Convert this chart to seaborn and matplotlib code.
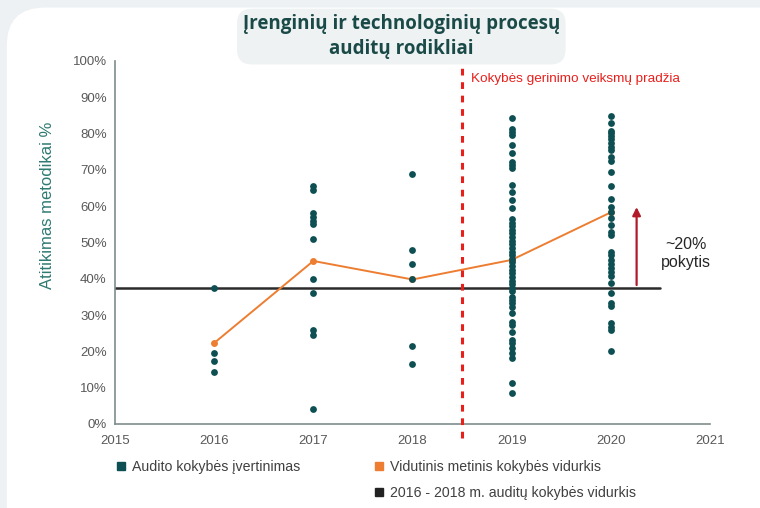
import matplotlib
matplotlib.use("Agg")
import matplotlib.pyplot as plt
import seaborn as sns
import pandas as pd
from matplotlib.lines import Line2D
from matplotlib.patches import FancyBboxPatch
from matplotlib.ticker import PercentFormatter

# audit scores per year (% compliance)
scores_2016 = [37.5, 19.6, 17.4, 14.3]
scores_2017 = [65.5, 64.5, 58.0, 57.0, 56.0, 55.0, 51.0, 40.0, 36.0, 26.0, 24.5, 4.0]
scores_2018 = [68.8, 47.9, 44.0, 39.9, 21.6, 16.4]
scores_2019 = [84.2, 81.2, 80.5, 79.6, 76.9, 74.6, 72.3, 71.3, 70.4, 65.8, 64.0, 61.7, 59.4,
               56.5, 55.5, 54.5, 53.5, 52.5, 51.5, 50.5, 49.5, 48.5, 47.5, 46.5, 45.5,
               44.5, 43.5, 42.5, 41.5, 40.5, 39.5, 38.5, 37.5, 36.5,
               35.1, 34.2, 33.2, 32.3, 30.5, 28.2, 27.3, 25.4, 23.1, 22.2, 20.9, 19.5, 18.1, 11.2, 8.5]
scores_2020 = [84.8, 83.0, 80.8, 80.1, 79.3, 78.4, 77.5, 76.4, 75.5, 73.6, 72.5, 69.5, 65.6,
               61.9, 59.7, 58.5, 56.7, 54.8, 52.8, 52.1, 47.5, 46.6, 45.2, 44.1, 42.9, 42.0,
               40.8, 38.9, 36.2, 33.4, 32.5, 27.9, 26.8, 25.9, 20.2]

years = [2016, 2017, 2018, 2019, 2020]
yearly_mean = [22.3, 44.9, 39.8, 45.2, 58.3]
baseline = 37.5
baseline_span = [2015, 2020.5]
improvement_start = 2018.5
xticks = [2015, 2016, 2017, 2018, 2019, 2020, 2021]
yticks = [0, 10, 20, 30, 40, 50, 60, 70, 80, 90, 100]

all_scores = [scores_2016, scores_2017, scores_2018, scores_2019, scores_2020]
points = pd.DataFrame({
    "year": [y for y, s in zip(years, all_scores) for _ in s],
    "score": [v for s in all_scores for v in s],
})
means = pd.DataFrame({"year": years, "score": yearly_mean})

TEAL = "#0d4f52"
ORANGE = "#ed7d31"
RED = "#e8201c"
GREY = "#595959"

sns.set_theme(style="white")
plt.rcParams["font.family"] = ["Liberation Sans", "DejaVu Sans"]

fig = plt.figure(figsize=(7.6, 5.08), dpi=100, facecolor="#eef1f3")

# white rounded card behind the chart
card = FancyBboxPatch((0.009, -0.2), 1.2, 1.185, boxstyle="round,pad=0,rounding_size=0.05",
                      transform=fig.transFigure, facecolor="white", edgecolor="none",
                      mutation_aspect=1.5, zorder=-5)
fig.patches.append(card)

ax = fig.add_axes([0.1513, 0.1654, 0.7829, 0.7146])
ax.set_facecolor("none")
ax.set_zorder(2)

ax.plot(baseline_span, [baseline, baseline], color="#2b2b2b", lw=1.8, zorder=2)
sns.lineplot(data=means, x="year", y="score", ax=ax, color=ORANGE, lw=1.4,
             marker="o", markersize=5, markeredgewidth=0, zorder=3)
sns.scatterplot(data=points, x="year", y="score", ax=ax, color=TEAL, s=24,
                linewidth=0, zorder=4)

ax.axvline(improvement_start, ymin=-0.04, ymax=1.0, color=RED, ls=(0, (2.2, 2.2)),
           lw=2.2, clip_on=False, zorder=5)
ax.text(improvement_start + 0.09, 95, "Kokybės gerinimo veiksmų pradžia", color=RED,
        fontsize=9.7, va="center", ha="left")

ax.annotate("", xy=(2020.26, 60.5), xytext=(2020.26, baseline),
            arrowprops=dict(arrowstyle="-|>", color="#b21a2a", lw=1.6, mutation_scale=12))
ax.text(2020.76, 47, "~20%\npokytis", ha="center", va="center", fontsize=11.5,
        color="#262626", linespacing=1.25)

ax.set_xlim(2015, 2021)
ax.set_ylim(0, 100)
ax.set_xticks(xticks)
ax.set_yticks(yticks)
ax.yaxis.set_major_formatter(PercentFormatter(decimals=0))
ax.tick_params(axis="both", labelsize=9.5, colors=GREY, length=0, pad=6)
ax.tick_params(axis="x", pad=8)
ax.set_xlabel("")
ax.set_ylabel("Atitikimas metodikai %", color="#2e7a72", fontsize=12)
ax.yaxis.set_label_coords(-0.101, 0.603)
for side in ["top", "right"]:
    ax.spines[side].set_visible(False)
for side in ["left", "bottom"]:
    ax.spines[side].set_color("#7f8c8d")
    ax.spines[side].set_linewidth(1.2)

# title in a light rounded box
fig.text(0.528, 0.928, "Įrenginių ir technologinių procesų\nauditų rodikliai",
         ha="center", va="center", fontsize=13.5, fontweight="bold", color="#1a4a47",
         family=["Open Sans", "DejaVu Sans"], linespacing=1.3,
         bbox=dict(boxstyle="round,pad=0.3,rounding_size=0.8", facecolor="#eef2f3",
                   edgecolor="none"))

handles = [
    Line2D([], [], marker="s", ls="none", color=TEAL, markersize=6),
    Line2D([], [], alpha=0),
    Line2D([], [], marker="s", ls="none", color=ORANGE, markersize=6),
    Line2D([], [], marker="s", ls="none", color="#222222", markersize=6),
]
labels = ["Audito kokybės įvertinimas", "",
          "Vidutinis metinis kokybės vidurkis",
          "2016 - 2018 m. auditų kokybės vidurkis"]
fig.legend(handles, labels, ncol=2, loc="upper left", bbox_to_anchor=(0.150, 0.094),
           frameon=False, fontsize=10.2, labelcolor="#404040", handletextpad=0.3,
           handlelength=1.0, columnspacing=5.0, labelspacing=0.8,
           borderpad=0, borderaxespad=0)

fig.savefig("out.png", dpi=100, facecolor=fig.get_facecolor())
